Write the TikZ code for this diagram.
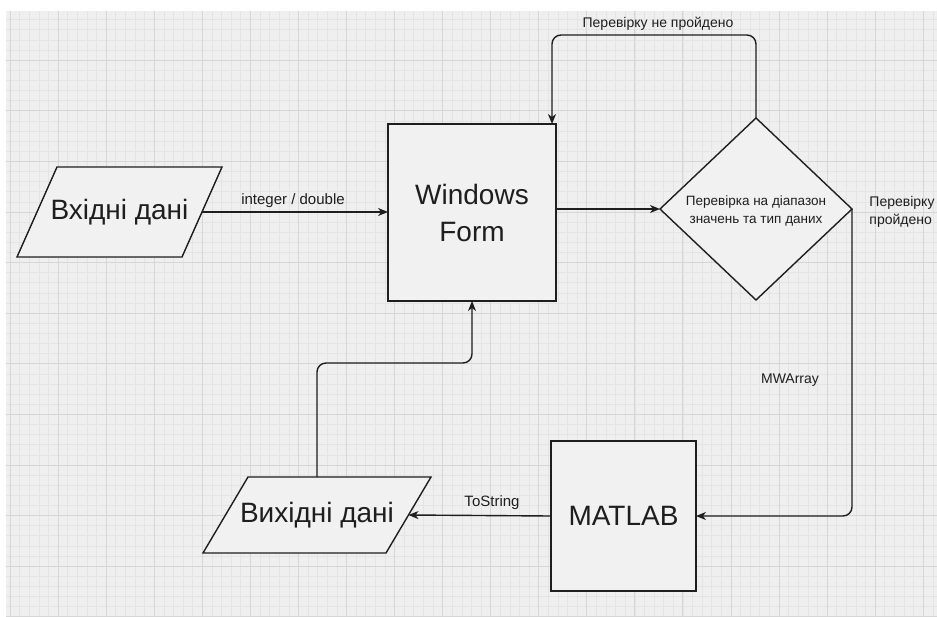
\documentclass[tikz,border=0pt]{standalone}
\usepackage{fontspec}
\setmainfont{Liberation Sans}
\usetikzlibrary{shapes.geometric,arrows.meta,calc}

\definecolor{paper}{HTML}{EFEFEF}
\definecolor{shapefill}{HTML}{F1F1F1}
\definecolor{gridminor}{HTML}{E4E4E4}
\definecolor{gridmajor}{HTML}{D6D6D6}
\definecolor{ink}{HTML}{1E1E1E}

\begin{document}
\begin{tikzpicture}[x=1pt,y=-1pt,
  flow/.style={draw=ink, line width=1.4pt, fill=shapefill, inner sep=0pt, outer sep=0pt},
  procbox/.style={flow, rectangle},
  iofrat/.style={rectangle, inner sep=0pt, outer sep=0pt},
  ioshape/.style={draw=ink, line width=1.4pt, fill=shapefill, line join=miter},
  decision/.style={flow, diamond},
  bigtext/.style={text=ink, font=\fontsize{28}{37}\selectfont},
  smalltext/.style={text=ink, font=\fontsize{14}{18}\selectfont},
  edgetext/.style={text=ink, font=\fontsize{15}{18}\selectfont},
  conn/.style={draw=ink, line width=1.4pt, -{Stealth[length=10pt,width=8pt,inset=3pt]}},
  minorline/.style={draw=gridminor, line width=0.5pt},
  majorline/.style={draw=gridmajor, line width=0.8pt},
]
% page and squared paper
\useasboundingbox (0,0) rectangle (937,616);
\fill[white] (0,0) rectangle (937,616);
\fill[paper] (6,11) rectangle (937,616);
\begin{scope}
  \clip (6,11) rectangle (937,616);
  \foreach \i in {-1,...,96} \draw[minorline] ({10+9.612*\i},11) -- ++(0,605);
  \foreach \j in {0,...,60} \draw[minorline] (6,{9.5+10.12*\j}) -- ++(931,0);
  \foreach \k in {0,...,19} \draw[majorline] ({10+48.06*\k},11) -- ++(0,605);
  \foreach \k in {1,...,12} \draw[majorline] (6,{9.5+50.6*\k}) -- ++(931,0);
\end{scope}

% input data (parallelogram with a 40pt slant)
\node[iofrat, minimum width=165pt, minimum height=90pt] (inp) at (119.5,212) {};
\draw[ioshape] ($(inp.north west)+(20,0)$) -- ($(inp.north east)+(20,0)$)
  -- ($(inp.south east)+(-20,0)$) -- ($(inp.south west)+(-20,0)$) -- cycle;
\node[bigtext] (inptext) at (inp.center) {Вхідні дані};

% main form
\node[procbox, minimum width=168pt, minimum height=177pt, bigtext, align=center]
      (wf) at (472,212.5) {Windows\\Form};

% validation check
\node[decision, minimum width=192pt, minimum height=182pt] (dia) at (756,209) {};
\node[text=ink, align=center, font=\fontsize{13.5}{18}\selectfont]
      (diatext) at ($(dia.center)+(0,2)$) {Перевірка на діапазон\\значень та тип даних};

% computation
\node[procbox, minimum width=145pt, minimum height=150pt, bigtext] (ml) at (623.5,516) {MATLAB};

% output data (parallelogram with a 45pt slant)
\node[iofrat, minimum width=183pt, minimum height=76pt] (out) at (317,515) {};
\draw[ioshape] ($(out.north west)+(22.5,0)$) -- ($(out.north east)+(22.5,0)$)
  -- ($(out.south east)+(-22.5,0)$) -- ($(out.south west)+(-22.5,0)$) -- cycle;
\node[bigtext] (outtext) at (out.center) {Вихідні дані};

% connectors
\draw[conn] (inp.east) -- (wf.west |- inp.east);
\node[edgetext] (lblin) at (293,201) {integer / double};

\draw[conn] (wf.east |- dia.west) -- (dia.west);

\coordinate (loopturn) at (552,35);
\draw[conn, rounded corners=9pt] (dia.north) |- (loopturn) -- (loopturn |- wf.north);
\node[smalltext] (lblfail) at (658,24) {Перевірку не пройдено};

\draw[conn, rounded corners=9pt] (dia.east) |- (ml.east);
\node[smalltext, align=left] (lblpass) at (902,212) {Перевірку\\пройдено};
\node[smalltext] (lblmw) at (790,380) {MWArray};

\draw[conn] (ml.west) -- (out.east);
\node[edgetext] (lblts) at (492,503) {ToString};

\draw[conn, rounded corners=9pt] (out.north) -- ++(0,-114) -| (wf.south);
\end{tikzpicture}
\end{document}
